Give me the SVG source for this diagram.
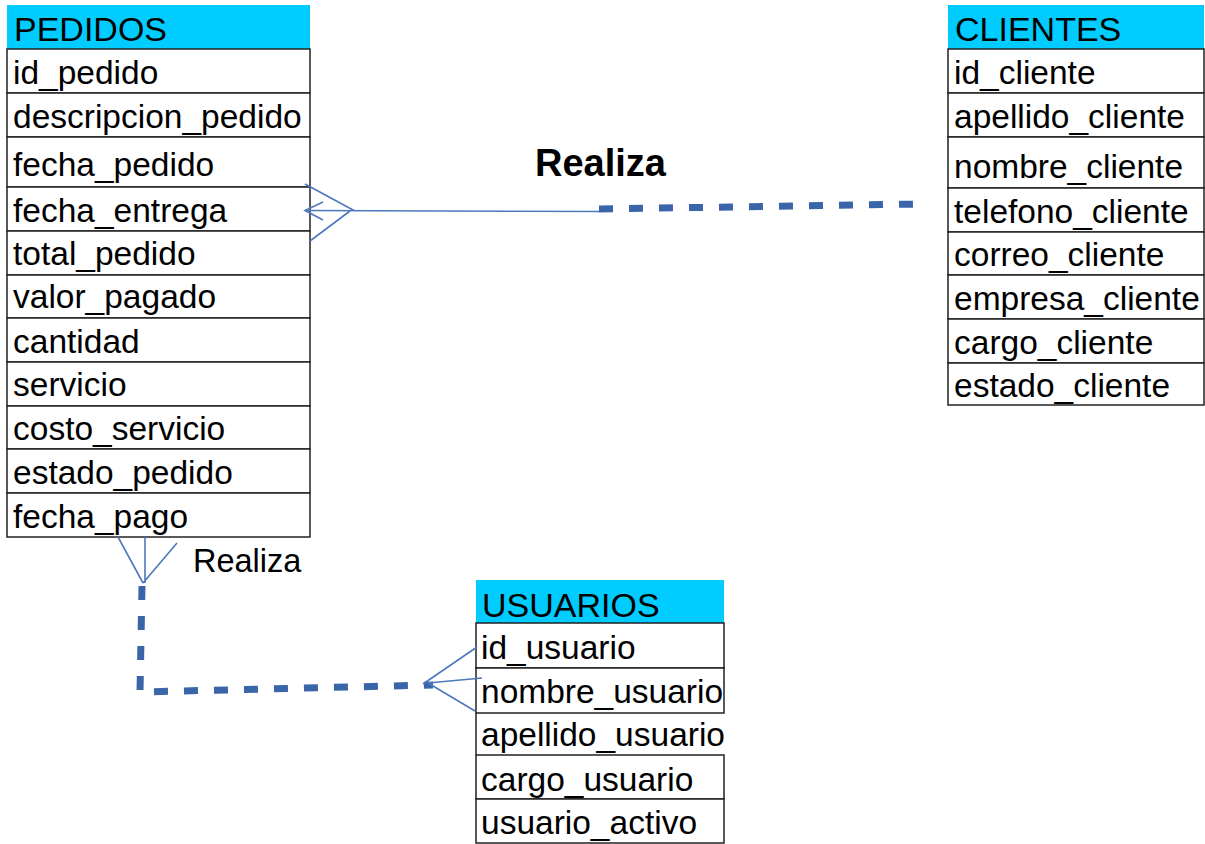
<svg xmlns="http://www.w3.org/2000/svg" width="1205" height="844" viewBox="0 0 1205 844">
<style>
.hdr{fill:#00CCFF;stroke:none}
.row{fill:#ffffff;stroke:#222222;stroke-width:1.5}
.edge{fill:none;stroke:#222222;stroke-width:1.5}
.t{font-family:"Liberation Sans",Arial,sans-serif;font-size:33.5px;fill:#000000}
.ht{font-family:"Liberation Sans",Arial,sans-serif;font-size:34px;fill:#000000}
.thin{fill:none;stroke:#4F77BD;stroke-width:1.6}
.dash{fill:none;stroke:#3A65A8;stroke-width:7;stroke-dasharray:14 16}
.lbl{font-family:"Liberation Sans",Arial,sans-serif;fill:#000000}
</style>
<rect x="0" y="0" width="1205" height="844" fill="#ffffff"/>

<g id="pedidos">
<rect class="hdr" x="7" y="5" width="303" height="44"/>
<text class="ht" x="14" y="41">PEDIDOS</text>
<rect class="row" x="7" y="49" width="303" height="44"/>
<rect class="row" x="7" y="93" width="303" height="44"/>
<rect class="row" x="7" y="137" width="303" height="50"/>
<rect class="row" x="7" y="187" width="303" height="44"/>
<rect class="row" x="7" y="231" width="303" height="44"/>
<rect class="row" x="7" y="275" width="303" height="43"/>
<rect class="row" x="7" y="318" width="303" height="44"/>
<rect class="row" x="7" y="362" width="303" height="44"/>
<rect class="row" x="7" y="406" width="303" height="43"/>
<rect class="row" x="7" y="449" width="303" height="44"/>
<rect class="row" x="7" y="493" width="303" height="44"/>
<text class="t" x="13" y="84">id_pedido</text>
<text class="t" x="13" y="128">descripcion_pedido</text>
<text class="t" x="13" y="176">fecha_pedido</text>
<text class="t" x="13" y="222">fecha_entrega</text>
<text class="t" x="13" y="265">total_pedido</text>
<text class="t" x="13" y="308">valor_pagado</text>
<text class="t" x="13" y="353">cantidad</text>
<text class="t" x="13" y="396">servicio</text>
<text class="t" x="13" y="440">costo_servicio</text>
<text class="t" x="13" y="484">estado_pedido</text>
<text class="t" x="13" y="528">fecha_pago</text>
</g>

<g id="clientes">
<rect class="hdr" x="948" y="5" width="256" height="44"/>
<text class="ht" x="955" y="41">CLIENTES</text>
<rect class="row" x="948" y="49" width="256" height="44"/>
<rect class="row" x="948" y="93" width="256" height="44"/>
<rect class="row" x="948" y="137" width="256" height="51"/>
<rect class="row" x="948" y="188" width="256" height="44"/>
<rect class="row" x="948" y="232" width="256" height="43"/>
<rect class="row" x="948" y="275" width="256" height="44"/>
<rect class="row" x="948" y="319" width="256" height="44"/>
<rect class="row" x="948" y="363" width="256" height="42"/>
<text class="t" x="954" y="84">id_cliente</text>
<text class="t" x="954" y="128">apellido_cliente</text>
<text class="t" x="954" y="178">nombre_cliente</text>
<text class="t" x="954" y="223">telefono_cliente</text>
<text class="t" x="954" y="266">correo_cliente</text>
<text class="t" x="954" y="310">empresa_cliente</text>
<text class="t" x="954" y="354">cargo_cliente</text>
<text class="t" x="954" y="397">estado_cliente</text>
</g>

<g id="usuarios">
<rect class="hdr" x="476" y="580" width="248" height="43"/>
<text class="ht" x="482" y="617">USUARIOS</text>
<rect class="row" x="476" y="623" width="248" height="45"/>
<rect class="row" x="476" y="668" width="248" height="45"/>
<path class="edge" d="M476,713 V755"/>
<rect class="row" x="476" y="755" width="248" height="44"/>
<rect class="row" x="476" y="799" width="248" height="44"/>
<text class="t" x="481" y="659">id_usuario</text>
<text class="t" x="481" y="703">nombre_usuario</text>
<text class="t" x="481" y="746">apellido_usuario</text>
<text class="t" x="481" y="791">cargo_usuario</text>
<text class="t" x="481" y="834">usuario_activo</text>
</g>

<g id="connectors">
<g id="pedidos-clientes">
<path class="thin" d="M305,210.5 L599,211.5"/>
<path class="thin" d="M305,184 L354,210.5 M310,241 L350,211"/>
<path class="thin" d="M323,202 L305,210.5 L323,220"/>
<path class="dash" d="M599,209 L922,204"/>
<text class="lbl" x="535" y="176" font-size="38" font-weight="bold">Realiza</text>
</g>
<g id="pedidos-usuarios">
<path class="thin" d="M118,537 L143,583 M145,537 L145,583 M177,543 L143,583"/>
<path class="dash" d="M142,586 L140,692 L433,685"/>
<path class="thin" d="M423,684 L477,647 M428,683 L482,678 M428,683 L475,711"/>
<text class="lbl" x="193" y="572" font-size="32.5">Realiza</text>
</g>
</g>
</svg>
